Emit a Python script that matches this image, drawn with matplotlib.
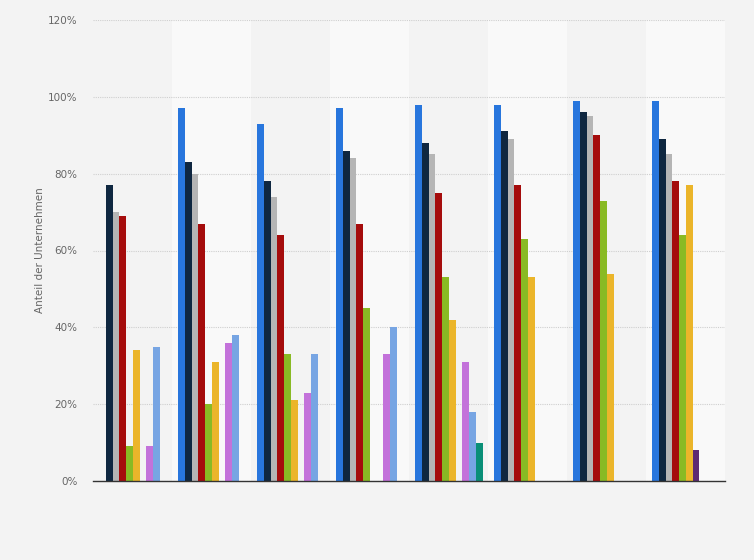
import numpy as np
import matplotlib.pyplot as plt

# Daten: 8 Gruppen, 10 Serien (NaN = kein Balken)
nan = np.nan
gruppen = ["G1", "G2", "G3", "G4", "G5", "G6", "G7", "G8"]
serie_blau = [nan, 97, 93, 97, 98, 98, 99, 99]
serie_navy = [77, 83, 78, 86, 88, 91, 96, 89]
serie_grau = [70, 80, 74, 84, 85, 89, 95, 85]
serie_rot = [69, 67, 64, 67, 75, 77, 90, 78]
serie_gruen = [9, 20, 33, 45, 53, 63, 73, 64]
serie_gelb = [34, 31, 21, nan, 42, 53, 54, 77]
serie_dunkellila = [nan, nan, nan, nan, nan, nan, nan, 8]
serie_lila = [9, 36, 23, 33, 31, nan, nan, nan]
serie_hellblau = [35, 38, 33, 40, 18, nan, nan, nan]
serie_tuerkis = [nan, nan, nan, nan, 10, nan, nan, nan]

serien = [serie_blau, serie_navy, serie_grau, serie_rot, serie_gruen,
          serie_gelb, serie_dunkellila, serie_lila, serie_hellblau, serie_tuerkis]
farben = ["#2876dd", "#0f2740", "#b5b5b5", "#a50c0c", "#89ba24",
          "#ebb52a", "#5d2873", "#c372da", "#77a5e3", "#0a8f77"]

fig = plt.figure(figsize=(7.54, 5.6), dpi=100)
fig.patch.set_facecolor("#f3f3f3")
ax = fig.add_axes([93 / 754, 79 / 560, 632 / 754, 461 / 560])
ax.set_facecolor("#f3f3f3")

n = len(gruppen)
breite = 0.086
x = np.arange(n)

# Streifen im Hintergrund
for i in range(n):
    if i % 2 == 1:
        ax.axvspan(i - 0.5, i + 0.5, color="#f9f9f9", zorder=0, lw=0)

for k, (werte, farbe) in enumerate(zip(serien, farben)):
    pos = x - 0.5 + 0.075 + breite * (k + 0.5)
    ax.bar(pos, werte, width=breite, color=farbe, zorder=3, linewidth=0)

ax.set_xlim(-0.5, n - 0.5)
ax.set_ylim(0, 120)
ax.set_yticks(np.arange(0, 121, 20))
ax.set_yticklabels([f"{v}%" for v in range(0, 121, 20)])
ax.set_xticks([])
ax.grid(axis="y", color="#cfcfcf", linestyle=(0, (1, 1)), linewidth=0.8, zorder=1)
ax.tick_params(axis="y", length=0, labelsize=7.5, labelcolor="#666666", pad=11)

for s in ["top", "right", "left"]:
    ax.spines[s].set_visible(False)
ax.spines["bottom"].set_color("#333333")
ax.spines["bottom"].set_linewidth(1.0)
ax.spines["bottom"].set_zorder(5)

ax.set_ylabel("Anteil der Unternehmen", fontsize=7.5, color="#666666", labelpad=2)

fig.savefig("out.png", dpi=100, facecolor=fig.get_facecolor())
